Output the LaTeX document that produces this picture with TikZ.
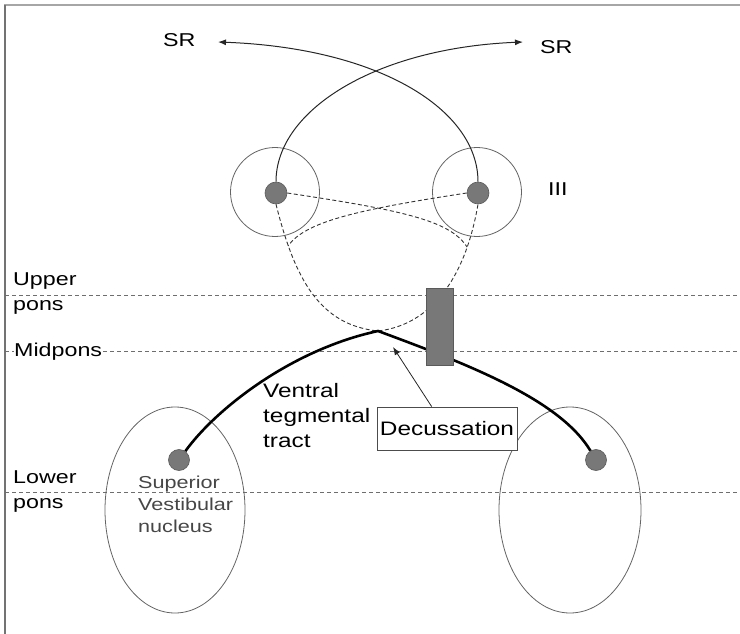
\documentclass[tikz,border=0pt]{standalone}
\usepackage{fontspec}
\setmainfont{Liberation Sans}[FakeStretch=1.25]
\usetikzlibrary{arrows.meta}
\definecolor{dotgray}{RGB}{120,120,120}
\definecolor{rimgray}{RGB}{90,90,90}
\definecolor{linegray}{RGB}{100,100,100}
\definecolor{dashgray}{RGB}{110,110,110}
\definecolor{txtgray}{RGB}{70,70,70}
\tikzset{
  nucleus/.style={circle,draw=linegray,line width=0.8pt,inner sep=0pt},
  dotnode/.style={circle,fill=dotgray,draw=rimgray,line width=0.6pt,inner sep=0pt},
  level/.style={draw=dashgray,line width=0.9pt,dash pattern=on 4pt off 3pt},
  fiber/.style={draw=black!80,line width=0.9pt,dash pattern=on 4pt off 2.5pt},
  tract/.style={draw=black,line width=2.6pt},
  srpath/.style={draw=black!85,line width=1pt,-{Latex[length=8pt,width=6pt]}},
  lab/.style={anchor=base west,inner sep=0pt,font=\fontsize{18.6}{22}\selectfont},
}
\begin{document}
\begin{tikzpicture}[x=1pt,y=-1pt]
\useasboundingbox (0,0) rectangle (740,634);
% frame
\draw[draw=black!35,line width=2pt] (4,5) -- (740,5);
\draw[draw=black!55,line width=1.5pt] (5,5) -- (5,634);
% level lines
\draw[level] (5,295) -- (740,295);
\draw[level] (5,351) -- (740,351);
\draw[level] (5,492) -- (740,492);
% lower ellipses
\draw[draw=linegray,line width=0.8pt] (175,510) ellipse [x radius=70,y radius=103];
\draw[draw=linegray,line width=0.8pt] (570,510) ellipse [x radius=71,y radius=103];
% upper nuclei (III)
\node[nucleus,minimum size=89pt] (cl) at (275,192) {};
\node[nucleus,minimum size=89pt] (cr) at (477,192) {};
\node[dotnode,minimum size=22pt] (ul) at (276,193) {};
\node[dotnode,minimum size=22pt] (ur) at (478,193) {};
% lower dots
\node[dotnode,minimum size=21pt] (vl) at (179,460) {};
\node[dotnode,minimum size=21pt] (vr) at (596,460) {};
% key points
\coordinate (apex) at (378,331);
\coordinate (tipL) at (218,42);
\coordinate (tipR) at (523,42);
\coordinate (mr) at (467,247);
\coordinate (ml) at (288,246);
\coordinate (dectip) at (393,347);
% SR paths
\draw[srpath] (ur.north) .. controls (478,110) and (380,48) .. (tipL);
\draw[srpath] (ul.north) .. controls (276,110) and (376,48) .. (tipR);
% dashed fibres
\draw[fiber] (ul.south) .. controls (295,280) and (320,325) .. (apex)
  .. controls (430,325) and (465,280) .. (ur.south);
\draw[fiber] (ul.east) .. controls (400,210) and (450,220) .. (mr);
\draw[fiber] (ur.west) .. controls (355,210) and (305,222) .. (ml);
% ventral tegmental tract
\draw[tract,line join=miter] (vl) .. controls (215,410) and (290,350) .. (apex)
  .. controls (470,365) and (560,400) .. (vr);
% decussation bar
\node[rectangle,fill=dotgray,draw=rimgray,line width=0.8pt,minimum width=27pt,minimum height=77pt,inner sep=0pt] (bar) at (439.5,326.5) {};
% labels
\node[lab] (srl) at (163,47) {SR};
\node[lab] (srr) at (540,54) {SR};
\node[lab] (iii) at (548,195) {III};
\node[lab] (up1) at (13,285) {Upper};
\node[lab] (up2) at (13,310) {pons};
\node[lab,fill=white] (mid) at (14,356) {Midpons};
\node[lab] (lo1) at (13,483) {Lower};
\node[lab] (lo2) at (13,508) {pons};
\node[anchor=base west,inner sep=0pt,align=left,font=\fontsize{19.5}{25}\selectfont] (vtt) at (263,447) {Ventral\\tegmental\\tract};
\node[anchor=base west,inner sep=0pt,align=left,text=txtgray,font=\fontsize{17.3}{22}\selectfont] (svn) at (138,532) {Superior\\Vestibular\\nucleus};
\node[rectangle,draw=black!70,line width=0.8pt,fill=white,minimum width=140pt,minimum height=43pt,inner sep=0pt,font=\fontsize{19.5}{23}\selectfont] (dec) at (447,428.5) {Decussation};
\draw[draw=black!85,line width=0.8pt,-{Latex[length=8pt,width=6pt]}] (dec.125) -- (dectip);
\end{tikzpicture}
\end{document}
